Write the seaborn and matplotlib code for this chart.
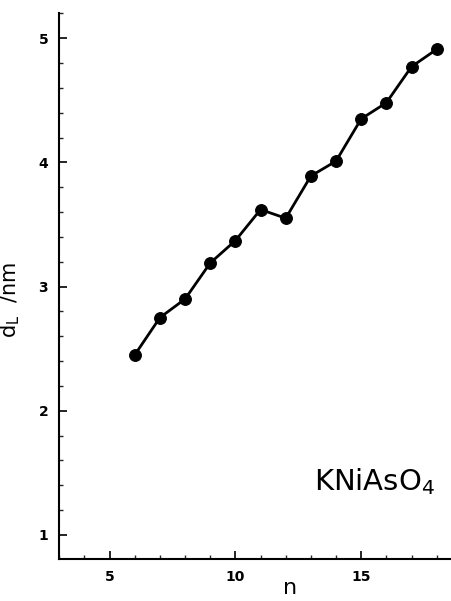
import matplotlib
matplotlib.use("Agg")
import matplotlib.pyplot as plt
import seaborn as sns
import pandas as pd
from matplotlib.ticker import MultipleLocator

n_values = [6, 7, 8, 9, 10, 11, 12, 13, 14, 15, 16, 17, 18]
d_L = [2.45, 2.75, 2.90, 3.19, 3.37, 3.62, 3.55, 3.89, 4.01, 4.35, 4.48, 4.77, 4.91]
x_ticks = [5, 10, 15]
y_ticks = [1, 2, 3, 4, 5]

df = pd.DataFrame({"n": n_values, "d_L": d_L})

sns.set_style("ticks")
plt.rcParams['font.family'] = ['DejaVu Sans']
plt.rcParams['text.color'] = 'black'
plt.rcParams['axes.labelcolor'] = 'black'

fig = plt.figure(figsize=(4.51, 6.01), dpi=100)
ax = fig.add_axes([59.3 / 451, 1 - 559.3 / 601, (450.5 - 59.3) / 451, (559.3 - 13.3) / 601])

sns.lineplot(data=df, x="n", y="d_L", ax=ax, color="black", linewidth=2.0,
             marker="o", markersize=8.5, markeredgecolor="black", markerfacecolor="black")

ax.set_xlim(3, 18.55)
ax.set_ylim(0.804, 5.2)
ax.set_xticks(x_ticks)
ax.set_yticks(y_ticks)
ax.xaxis.set_minor_locator(MultipleLocator(1))
ax.yaxis.set_minor_locator(MultipleLocator(0.2))
ax.tick_params(axis="both", which="major", direction="in", length=6, width=1.2,
               labelsize=10, pad=8, colors="black")
ax.tick_params(axis="both", which="minor", direction="in", length=3, width=1.0)
for lab in ax.get_xticklabels() + ax.get_yticklabels():
    lab.set_fontweight("bold")

for side in ["top", "right"]:
    ax.spines[side].set_visible(False)
for side in ["left", "bottom"]:
    ax.spines[side].set_linewidth(1.5)
    ax.spines[side].set_color("black")

ax.set_xlabel("n", fontsize=16, color="black", va="center")
ax.xaxis.set_label_coords(0.59, -0.052)
ax.set_ylabel(r"$\mathregular{d_L}$  /nm", fontsize=15, color="black")
ax.yaxis.set_label_coords(-0.095, 0.475)

ax.text(314, 601 - 490, r"KNiAsO$_4$", transform=None, fontsize=21,
        ha="left", va="baseline", color="black")

fig.savefig("out.png", dpi=100)
